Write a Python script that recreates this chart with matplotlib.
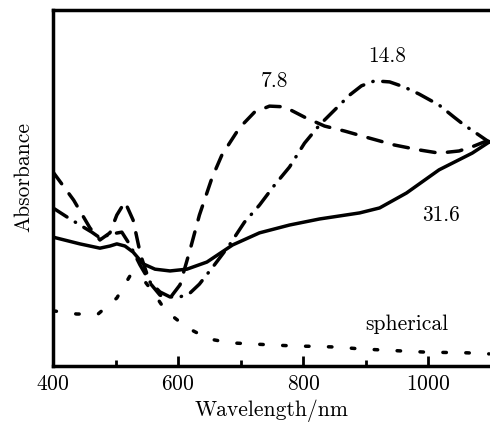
import numpy as np
from matplotlib import pyplot as plt

plt.rcParams["font.family"] = "cmr10"
plt.rcParams["axes.formatter.use_mathtext"] = True

# wavelength (nm) and absorbance (a.u.)
wl_78 = [400, 433, 459, 475, 491, 502, 515, 528, 540, 555, 571, 587, 603, 619, 634,
         654, 670, 698, 722, 746, 770, 802, 834, 866, 906, 945, 985, 1017, 1049, 1073, 1097]
abs_78 = [0.545, 0.466, 0.388, 0.354, 0.374, 0.424, 0.461, 0.410, 0.312, 0.233, 0.199,
          0.191, 0.228, 0.326, 0.424, 0.528, 0.593, 0.669, 0.713, 0.730, 0.728, 0.699,
          0.674, 0.660, 0.640, 0.621, 0.607, 0.598, 0.604, 0.618, 0.635]

wl_148 = [400, 422, 443, 462, 475, 494, 510, 523, 539, 555, 571, 587, 603, 619, 634, 658,
          682, 706, 730, 754, 778, 802, 826, 850, 874, 893, 914, 938, 961, 985, 1017,
          1041, 1057, 1078, 1097]
abs_148 = [0.444, 0.419, 0.396, 0.376, 0.360, 0.371, 0.376, 0.340, 0.284, 0.236, 0.208,
           0.194, 0.194, 0.205, 0.230, 0.284, 0.340, 0.404, 0.452, 0.508, 0.559, 0.626,
           0.677, 0.719, 0.761, 0.787, 0.801, 0.798, 0.784, 0.764, 0.733, 0.699, 0.677,
           0.652, 0.629]

wl_316 = [400, 443, 475, 491, 502, 515, 528, 544, 563, 587, 614, 646, 687, 730, 778, 826,
          890, 922, 965, 1017, 1070, 1097]
abs_316 = [0.362, 0.343, 0.331, 0.337, 0.343, 0.337, 0.320, 0.287, 0.272, 0.267, 0.272,
           0.292, 0.340, 0.374, 0.396, 0.413, 0.430, 0.444, 0.486, 0.551, 0.598, 0.629]

wl_sph = [400, 438, 472, 502, 524, 544, 563, 580, 615, 649, 684, 717, 752, 788, 823, 856,
          891, 926, 960, 995, 1028, 1062, 1097]
abs_sph = [0.155, 0.146, 0.146, 0.191, 0.256, 0.244, 0.200, 0.155, 0.107, 0.076, 0.065,
           0.062, 0.059, 0.056, 0.055, 0.053, 0.048, 0.045, 0.042, 0.039, 0.038, 0.037,
           0.034]

fig = plt.figure(figsize=(4.9, 4.25), dpi=100)
ax = fig.add_axes([53 / 490, 59 / 425, 438 / 490, 356 / 425])

lw = 2.5
ax.plot(wl_sph, abs_sph, color="k", lw=lw, linestyle=(0, (1.0, 5.6)), dash_capstyle="round")
ax.plot(wl_316, abs_316, color="k", lw=lw, linestyle="-", solid_joinstyle="round")
ax.plot(wl_78, abs_78, color="k", lw=lw, linestyle=(0, (4.2, 3.6)), dash_capstyle="round")
ax.plot(wl_148, abs_148, color="k", lw=lw, linestyle=(0, (4.8, 2.8, 0.1, 2.8)),
        dash_capstyle="round")

fs = 15.5
ax.text(754, 0.80, "7.8", fontsize=fs, ha="center", va="center")
ax.text(934, 0.871, "14.8", fontsize=fs, ha="center", va="center")
ax.text(1020, 0.424, "31.6", fontsize=fs, ha="center", va="center")
ax.text(966, 0.118, "spherical", fontsize=fs, ha="center", va="center")

ax.set_xlim(400, 1100)
ax.set_ylim(0, 1)
ax.set_xticks([400, 600, 800, 1000])
ax.set_xticks([500, 700, 900], minor=True)
ax.set_yticks([])
ax.tick_params(axis="x", which="major", direction="in", length=7, width=2,
               labelsize=fs, pad=6)
ax.tick_params(axis="x", which="minor", direction="in", length=4, width=2)
for s in ax.spines.values():
    s.set_linewidth(2.5)
ax.spines["right"].set_visible(False)

ax.set_xlabel("Wavelength/nm", fontsize=fs, labelpad=4)
ax.set_ylabel("Absorbance", fontsize=fs)
ax.yaxis.set_label_coords(-0.045, 0.53)

fig.savefig("out.png", dpi=100)
